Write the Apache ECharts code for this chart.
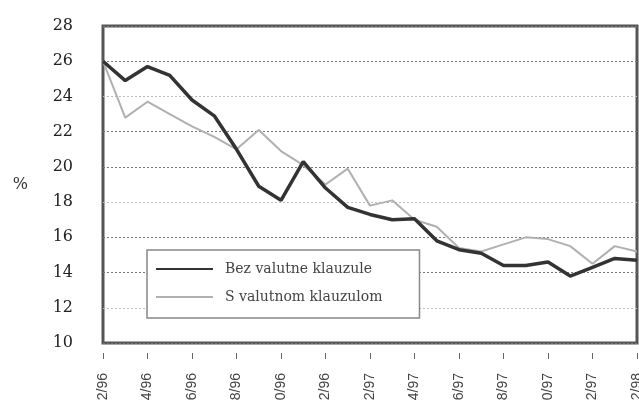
<!DOCTYPE html>
<html>
<head>
<meta charset="utf-8">
<script src="https://cdn.jsdelivr.net/npm/echarts@6/dist/echarts.min.js"></script>
<style>
  html, body { margin: 0; padding: 0; background: #fff; }
  #chart { width: 639px; height: 400px; }
</style>
</head>
<body>
<div id="chart"></div>
<script>
// mjesečne točke, 2/96 - 2/98
const months = [
  '2/96', '3/96', '4/96', '5/96', '6/96', '7/96', '8/96', '9/96', '10/96', '11/96', '12/96',
  '1/97', '2/97', '3/97', '4/97', '5/97', '6/97', '7/97', '8/97', '9/97', '10/97', '11/97', '12/97',
  '1/98', '2/98'
]
const bezKlauzule = [
  26.0, 24.9, 25.7, 25.2, 23.8, 22.9, 21.0, 18.9, 18.1, 20.3, 18.8,
  17.7, 17.3, 17.0, 17.05, 15.8, 15.3, 15.1, 14.4, 14.4, 14.6, 13.8, 14.3,
  14.8, 14.7
]
const sKlauzulom = [
  26.0, 22.8, 23.7, 23.0, 22.3, 21.7, 21.0, 22.1, 20.9, 20.1, 19.0,
  19.9, 17.8, 18.1, 17.0, 16.6, 15.4, 15.2, 15.6, 16.0, 15.9, 15.5, 14.5,
  15.5, 15.2
]
const yTicks = { min: 10, max: 28, step: 2 }

const chart = echarts.init(document.getElementById('chart'))

const option = {
  backgroundColor: '#fff',
  animation: false,
  grid: {
    left: 103,
    right: 2,
    top: 26,
    bottom: 57,
    outerBoundsMode: 'none',
    containLabel: false,
    show: true,
    borderColor: '#555',
    borderWidth: 3
  },
  legend: {
    orient: 'vertical',
    left: 147,
    top: 250,
    padding: [12, 37, 14, 8],
    itemWidth: 57,
    itemHeight: 14,
    itemGap: 14,
    backgroundColor: '#fff',
    borderColor: '#888',
    borderWidth: 1.5,
    itemStyle: { opacity: 0 },
    textStyle: {
      fontFamily: 'DejaVu Serif',
      fontSize: 14,
      color: '#444',
      padding: [0, 0, 0, 7]
    },
    data: ['Bez valutne klauzule', 'S valutnom klauzulom']
  },
  xAxis: {
    type: 'category',
    data: months,
    boundaryGap: false,
    offset: 10,
    axisLine: { show: false },
    axisTick: {
      show: true,
      interval: 1,
      length: 6,
      lineStyle: { color: '#666' }
    },
    axisLabel: {
      interval: 1,
      rotate: 90,
      margin: 20,
      fontFamily: 'Liberation Sans',
      fontSize: 14,
      color: '#444'
    },
    splitLine: { show: false }
  },
  yAxis: {
    type: 'value',
    min: yTicks.min,
    max: yTicks.max,
    interval: yTicks.step,
    name: '%',
    nameLocation: 'middle',
    nameRotate: 0,
    nameGap: 75,
    nameTextStyle: { fontFamily: 'DejaVu Serif', fontSize: 16, color: '#333' },
    axisLine: { show: false },
    axisTick: { show: false },
    axisLabel: {
      margin: 30,
      fontFamily: 'DejaVu Serif',
      fontSize: 16,
      color: '#222'
    },
    splitLine: {
      lineStyle: {
        color: ['#777', '#bbb', '#777'],
        type: [2, 2],
        width: 1
      }
    }
  },
  series: [
    {
      name: 'S valutnom klauzulom',
      type: 'line',
      symbol: 'none',
      data: sKlauzulom,
      lineStyle: { color: '#b0b0b0', width: 2 },
      itemStyle: { color: '#b0b0b0' },
      z: 2
    },
    {
      name: 'Bez valutne klauzule',
      type: 'line',
      symbol: 'none',
      data: bezKlauzule,
      lineStyle: { color: '#333', width: 3.5 },
      itemStyle: { color: '#333' },
      z: 3
    }
  ]
}

chart.setOption(option)
</script>
</body>
</html>
